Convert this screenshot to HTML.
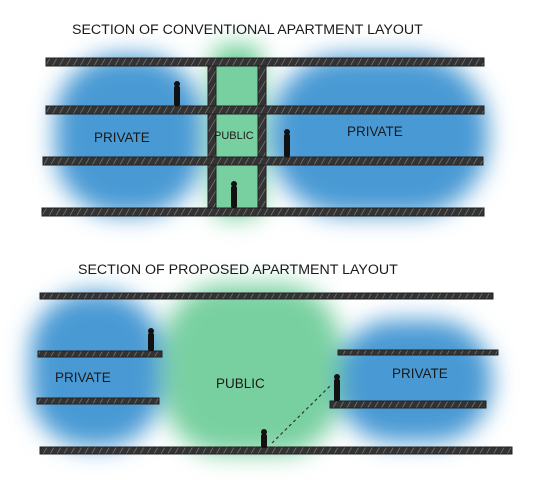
<!DOCTYPE html>
<html><head><style>
html,body{margin:0;padding:0;background:#fff;}
svg{display:block;}
text{font-family:"Liberation Sans",sans-serif;fill:#1a1a1a;}
</style></head><body>
<svg width="538" height="480" viewBox="0 0 538 480">
<defs>
<filter id="b" x="-40%" y="-40%" width="180%" height="180%"><feGaussianBlur stdDeviation="12"/></filter>
<pattern id="h" width="6" height="6" patternUnits="userSpaceOnUse" patternTransform="rotate(30)">
<rect width="6" height="6" fill="#333"/><line x1="0" y1="0" x2="0" y2="6" stroke="#888" stroke-width="1.2"/>
</pattern>
</defs>
<!-- top blobs -->
<g filter="url(#b)">
<rect x="55" y="55" width="148" height="160" rx="65" fill="#4a9ad4"/>
<rect x="270" y="55" width="218" height="160" rx="75" fill="#4a9ad4"/>
<rect x="212" y="45" width="50" height="172" rx="12" fill="#6fcf98"/>
</g>
<rect x="216" y="64" width="42" height="146" fill="#78d0a0"/>
<text x="72" y="34" font-size="14.2">SECTION OF CONVENTIONAL APARTMENT LAYOUT</text>
<!-- top slabs -->
<g fill="url(#h)" stroke="#222" stroke-width="1">
<rect x="208" y="62" width="8" height="150"/>
<rect x="258" y="62" width="8" height="150"/>
<rect x="46" y="58" width="438" height="8"/>
<rect x="46" y="106" width="438" height="8"/>
<rect x="43" y="157" width="440" height="8"/>
<rect x="42" y="208" width="442" height="8"/>
</g>
<text x="94" y="142" font-size="13.5">PRIVATE</text>
<text x="214" y="139" font-size="11">PUBLIC</text>
<text x="347" y="136" font-size="13.5">PRIVATE</text>
<!-- figures -->
<g fill="#111">
<circle cx="177" cy="84" r="3"/><rect x="174" y="86" width="6" height="20" rx="2"/>
<circle cx="287" cy="132" r="3"/><rect x="284" y="134" width="6" height="23" rx="2"/>
<circle cx="234" cy="184" r="3"/><rect x="231" y="186" width="6" height="22" rx="2"/>
</g>
<!-- bottom blobs -->
<g filter="url(#b)">
<rect x="30" y="292" width="132" height="155" rx="60" fill="#4a9ad4"/>
<rect x="336" y="320" width="156" height="122" rx="58" fill="#4a9ad4"/>
<rect x="164" y="284" width="176" height="170" rx="60" fill="#78d0a0"/>
</g>
<text x="78" y="274" font-size="14.2">SECTION OF PROPOSED APARTMENT LAYOUT</text>
<g fill="url(#h)" stroke="#222" stroke-width="1">
<rect x="40" y="293" width="453" height="6"/>
<rect x="38" y="351" width="124" height="6"/>
<rect x="37" y="398" width="122" height="6"/>
<rect x="338" y="350" width="160" height="5"/>
<rect x="330" y="401" width="156" height="7"/>
<rect x="40" y="447" width="472" height="7"/>
</g>
<text x="55" y="382" font-size="13.5">PRIVATE</text>
<text x="216" y="388" font-size="13.5">PUBLIC</text>
<text x="392" y="378" font-size="13.5">PRIVATE</text>
<line x1="272" y1="443" x2="330" y2="386" stroke="#333" stroke-width="1.2" stroke-dasharray="3,3"/>
<g fill="#111">
<circle cx="151" cy="331" r="3"/><rect x="148" y="333" width="6" height="18" rx="2"/>
<circle cx="337" cy="377" r="3"/><rect x="334" y="379" width="6" height="22" rx="2"/>
<circle cx="264" cy="432" r="3"/><rect x="261" y="434" width="6" height="14" rx="2"/>
</g>
</svg>
</body></html>
